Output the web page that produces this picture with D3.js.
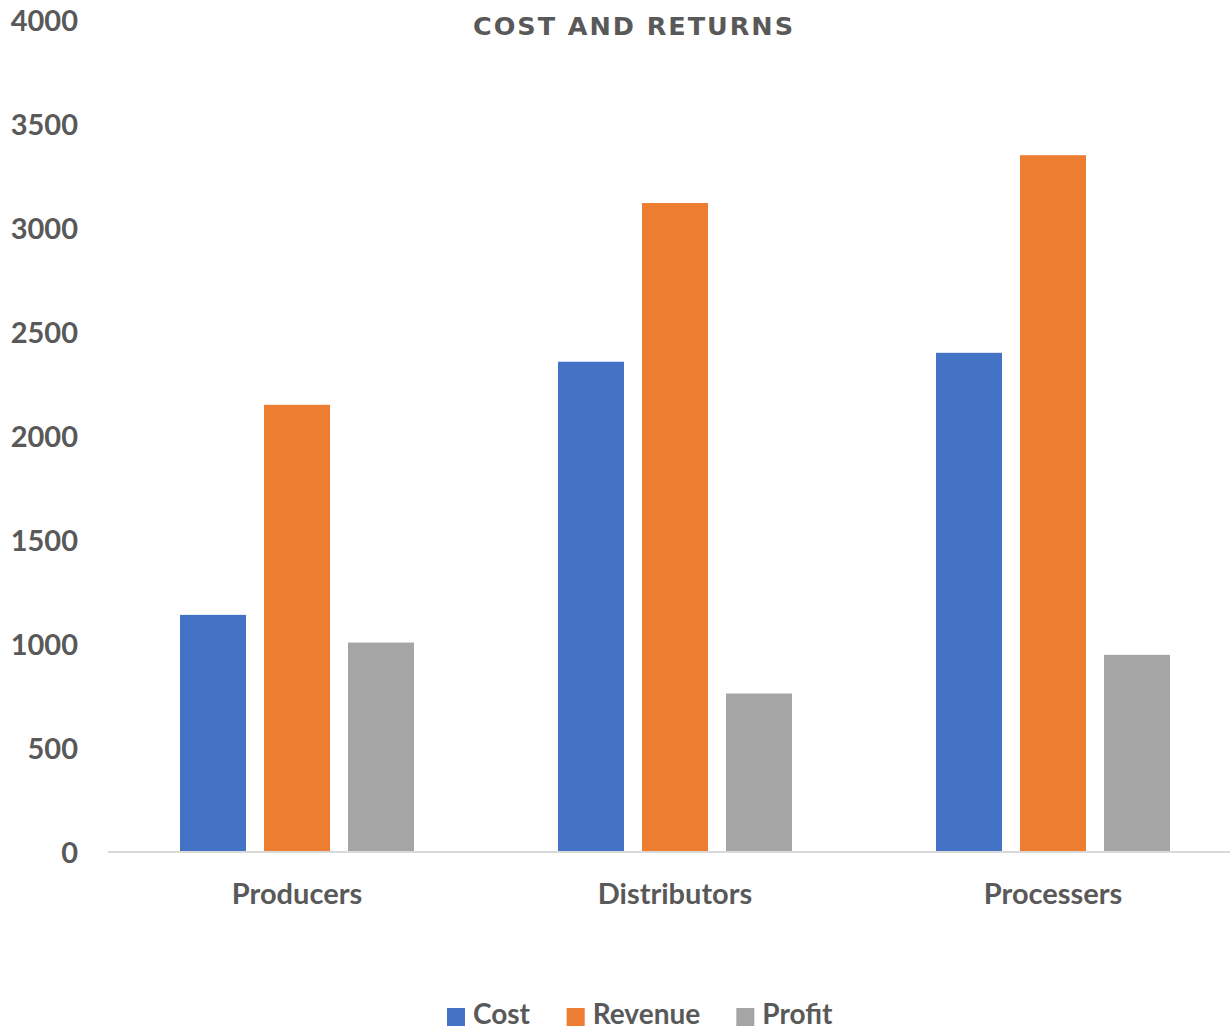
<!DOCTYPE html>
<html>
<head>
<meta charset="utf-8">
<script src="https://cdn.jsdelivr.net/npm/d3@7"></script>
<style>
  html, body { margin: 0; padding: 0; background: #ffffff; }
  svg text { font-family: Lato, "Open Sans", sans-serif; font-weight: bold; fill: #595959; }
</style>
</head>
<body>
<svg id="chart" width="1230" height="1029"></svg>
<script>
const categories = ["Producers", "Distributors", "Processers"];
const seriesNames = ["Cost", "Revenue", "Profit"];
const costValues = [1140, 2357, 2400];
const revenueValues = [2150, 3120, 3350];
const profitValues = [1007, 762, 948];
const yTicks = [0, 500, 1000, 1500, 2000, 2500, 3000, 3500, 4000];
const colors = ["#4472C4", "#ED7D31", "#A5A5A5"];
const title = "COST AND RETURNS";

const seriesValues = [costValues, revenueValues, profitValues];
const FONT = "Lato, 'Open Sans', sans-serif";

const svg = d3.select("#chart");

const x0 = d3.scaleBand().domain(categories).range([108, 1242]).paddingInner(0).paddingOuter(0);
const x1 = d3.scaleBand().domain(seriesNames).range([72, 306]).paddingInner(18 / 84).paddingOuter(0);
const y = d3.scaleLinear().domain([0, 4000]).range([852, 20]);

// Title
svg.append("text")
  .attr("x", 633).attr("y", 35)
  .attr("text-anchor", "middle")
  .attr("textLength", 320)
  .attr("lengthAdjust", "spacing")
  .style("font-size", "25.5px")
  .style("font-family", "'DejaVu Sans', sans-serif")
  .text(title);

// Y axis labels (no line, no ticks)
const yAxis = d3.axisLeft(y).tickValues(yTicks).tickSize(0).tickPadding(0).tickFormat(d3.format("d"));
const yg = svg.append("g").attr("transform", "translate(78,0)").call(yAxis);
yg.select(".domain").remove();
yg.selectAll("text")
  .style("font-size", "29px")
  .style("font-family", FONT)
  .style("font-weight", "bold")
  .attr("fill", "#595959")
  .attr("dy", "0.36em");

// Bars
const groups = svg.append("g").selectAll("g")
  .data(categories)
  .join("g")
  .attr("transform", d => `translate(${x0(d)},0)`);

groups.selectAll("rect")
  .data((d, i) => seriesNames.map((s, j) => ({ series: s, value: seriesValues[j][i], color: colors[j] })))
  .join("rect")
  .attr("x", d => x1(d.series))
  .attr("width", x1.bandwidth())
  .attr("y", d => y(d.value))
  .attr("height", d => y(0) - y(d.value))
  .attr("fill", d => d.color);

// X axis line
const xAxis = d3.axisBottom(x0).tickSize(0).tickPadding(0);
const xg = svg.append("g").attr("transform", `translate(0,${y(0)})`).call(xAxis);
xg.select(".domain").attr("stroke", "#d9d9d9").attr("stroke-width", 2).attr("d", "M108,0H1230");
xg.selectAll("text")
  .style("font-size", "29px")
  .style("font-family", FONT)
  .style("font-weight", "bold")
  .attr("fill", "#595959")
  .attr("dy", "0")
  .attr("y", 52);

// Legend
const legend = svg.append("g");
const items = legend.selectAll("g").data(seriesNames).join("g");
items.append("rect").attr("width", 18).attr("height", 18).attr("y", 1008).attr("fill", (d, i) => colors[i]);
items.append("text").attr("x", 26).attr("y", 1024).style("font-size", "28px").text(d => d);
const widths = [];
items.each(function() { widths.push(this.getBBox().width); });
const legendLeft = 447, legendRight = 833;
const gap = (legendRight - legendLeft - d3.sum(widths)) / (widths.length - 1);
let start = legendLeft;
items.attr("transform", (d, i) => {
  const t = `translate(${start},0)`;
  start += widths[i] + gap;
  return t;
});
</script>
</body>
</html>
